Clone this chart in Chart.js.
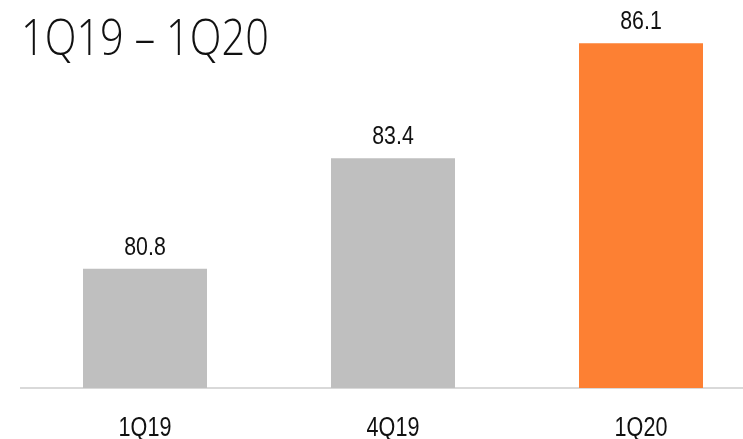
<!DOCTYPE html>
<html>
<head>
<meta charset="utf-8">
<script src="https://cdn.jsdelivr.net/npm/chart.js@4"></script>
<style>
  html, body { margin: 0; padding: 0; background: #fff; overflow: hidden; }
  #wrap { position: relative; width: 770px; height: 439px; }
</style>
</head>
<body>
<div id="wrap"><canvas id="c" width="770" height="439"></canvas></div>
<script>
// Quarterly values
const categories = ['1Q19', '4Q19', '1Q20'];
const values = [80.8, 83.4, 86.1];
const barColors = ['#bfbfbf', '#bfbfbf', '#fd8033'];
const periodTitle = '1Q19 – 1Q20';

const labelFont = '"Liberation Sans", Arial, sans-serif';

// Draws text squeezed horizontally to give a condensed face
function condensedText(ctx, text, x, y, font, squeeze, align) {
  ctx.save();
  ctx.font = font;
  ctx.fillStyle = '#111';
  ctx.textAlign = align;
  ctx.textBaseline = 'alphabetic';
  ctx.translate(x, y);
  ctx.scale(squeeze, 1);
  ctx.fillText(text, 0, 0);
  ctx.restore();
}

// Value labels above each bar and category names under the axis
const barText = {
  id: 'barText',
  afterDatasetsDraw(chart) {
    const ctx = chart.ctx;
    const meta = chart.getDatasetMeta(0);
    const bottom = chart.chartArea.bottom;
    meta.data.forEach((bar, i) => {
      condensedText(ctx, values[i].toFixed(1), bar.x, bar.y - 14, '26px ' + labelFont, 0.82, 'center');
      condensedText(ctx, categories[i], bar.x, bottom + 48, '27px ' + labelFont, 0.8, 'center');
    });
  }
};

// Period heading in the upper-left corner
const periodHeading = {
  id: 'periodHeading',
  afterDraw(chart) {
    condensedText(chart.ctx, periodTitle, 21, 55, '300 50px "Open Sans", Lato, sans-serif', 0.83, 'left');
  }
};

new Chart(document.getElementById('c'), {
  type: 'bar',
  data: {
    labels: categories,
    datasets: [{
      data: values,
      backgroundColor: barColors,
      borderWidth: 0,
      barPercentage: 0.5,
      categoryPercentage: 1
    }]
  },
  options: {
    responsive: false,
    animation: false,
    layout: { padding: { left: 21, right: 5, top: 5, bottom: 0 } },
    plugins: { legend: { display: false }, tooltip: { enabled: false } },
    scales: {
      x: {
        grid: { display: false, drawTicks: false },
        border: { display: true, color: '#d9d9d9', width: 2 },
        ticks: { display: false },
        afterFit(scale) { scale.height = 51; }
      },
      y: {
        display: false,
        min: 78,
        max: 87
      }
    }
  },
  plugins: [barText, periodHeading]
});
</script>
</body>
</html>
